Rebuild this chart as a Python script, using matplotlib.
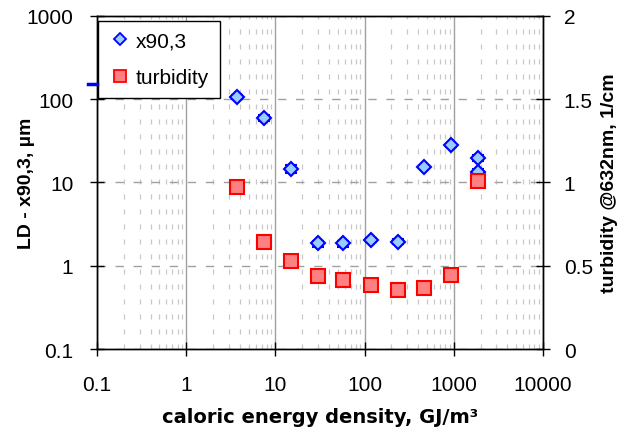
import matplotlib.pyplot as plt
from matplotlib.lines import Line2D
from matplotlib.ticker import LogLocator, FixedLocator, NullFormatter
import numpy as np

plt.rcParams['font.family'] = ['Liberation Sans', 'DejaVu Sans']

# -----------------------
# Data
# -----------------------
energy = np.array([3.75, 7.5, 15, 30, 57, 117, 235, 460, 925, 1860, 1860])
x90 = np.array([106, 60, 14.6, 1.85, 1.85, 2.05, 1.95, 15.3, 28, 19.8, 13.4])
x90_err = np.array([6, 5, 1.5, 0.15, 0.15, 0.1, 0.12, 0.5, 1, 1.5, 1.0])

energy_t = np.array([3.75, 7.5, 15, 30, 57, 117, 235, 460, 925, 1860])
turbidity = np.array([0.97, 0.645, 0.527, 0.44, 0.413, 0.383, 0.356, 0.365, 0.443, 1.007])

# -----------------------
# Plot
# -----------------------
fig = plt.figure(figsize=(6.28, 4.35), dpi=100)
ax1 = fig.add_axes([0.1545, 0.1954, 0.71, 0.7656])

ax1.set_xscale('log')
ax1.set_yscale('log')
ax1.set_xlim(0.1, 10000)
ax1.set_ylim(0.1, 1000)

# grid
ax1.xaxis.set_minor_locator(LogLocator(base=10, subs=np.arange(2, 10)))
ax1.xaxis.set_minor_formatter(NullFormatter())
ax1.yaxis.set_minor_locator(FixedLocator([]))
ax1.grid(True, which='major', axis='x', color='#a0a0a0', linewidth=1.0)
ax1.grid(True, which='minor', axis='x', color='#c8c8c8', linewidth=0.9,
         linestyle=(0, (4, 8)))
ax1.grid(True, which='major', axis='y', color='#a0a0a0', linewidth=1.0,
         linestyle=(0, (6, 7)))
ax1.set_axisbelow(True)

ax1.tick_params(which='major', direction='inout', length=10, width=1,
                labelsize=15)
ax1.tick_params(axis='x', pad=14)
ax1.tick_params(axis='y', pad=12)
ax1.tick_params(which='minor', length=0)
ax1.set_xticks([0.1, 1, 10, 100, 1000, 10000])
ax1.set_xticklabels(['0.1', '1', '10', '100', '1000', '10000'])
ax1.set_yticks([0.1, 1, 10, 100, 1000])
ax1.set_yticklabels(['0.1', '1', '10', '100', '1000'])

ax1.set_xlabel('caloric energy density, GJ/m³', labelpad=9,
               family='DejaVu Sans', fontsize=14, fontweight='bold')
ax1.set_ylabel('LD - x90,3, µm', labelpad=-6,
               fontsize=14, fontweight='bold')

# right axis: turbidity
ax2 = ax1.twinx()
ax2.set_ylim(0, 2)
ax2.set_yticks([0, 0.5, 1, 1.5, 2])
ax2.set_yticklabels(['0', '0.5', '1', '1.5', '2'])
ax2.tick_params(direction='inout', length=10, width=1, labelsize=15, pad=10)
ax2.set_ylabel('turbidity @632nm, 1/cm', labelpad=6,
               fontsize=14, fontweight='bold')

ax1.errorbar(energy, x90, yerr=x90_err, fmt='D', markersize=7.5,
             markerfacecolor='#99ccff', markeredgecolor='#0000ff',
             markeredgewidth=1.5, ecolor='#0000ff', elinewidth=1.2,
             capsize=4, zorder=5)
ax2.plot(energy_t, turbidity, 's', markersize=10,
         markerfacecolor='#ff8080', markeredgecolor='#ff0000',
         markeredgewidth=1.5, zorder=5)

for ax in (ax1, ax2):
    for s in ax.spines.values():
        s.set_linewidth(1.0)

# legend proxies (markers only, as in the original)
h1 = Line2D([], [], linestyle='none', marker='D', markersize=6,
            markerfacecolor='#99ccff', markeredgecolor='#0000ff',
            markeredgewidth=1.3)
h2 = Line2D([], [], linestyle='none', marker='s', markersize=8,
            markerfacecolor='#ff8080', markeredgecolor='#ff0000',
            markeredgewidth=1.3)
leg = ax2.legend([h1, h2], ['x90,3', 'turbidity'], loc='upper left',
                 bbox_to_anchor=(0.003, 0.985), borderaxespad=0,
                 fontsize=15, frameon=True, fancybox=False,
                 edgecolor='black', framealpha=1, handletextpad=0.2,
                 handlelength=1.1, borderpad=0.5, labelspacing=0.85)
leg.get_frame().set_linewidth(1.0)

# short blue stub left of the axis
fig.add_artist(Line2D([88 / 628, 97 / 628], [1 - 85 / 435, 1 - 85 / 435],
                      color='#0000ff', linewidth=2.5))

fig.savefig('out.png', dpi=100)
